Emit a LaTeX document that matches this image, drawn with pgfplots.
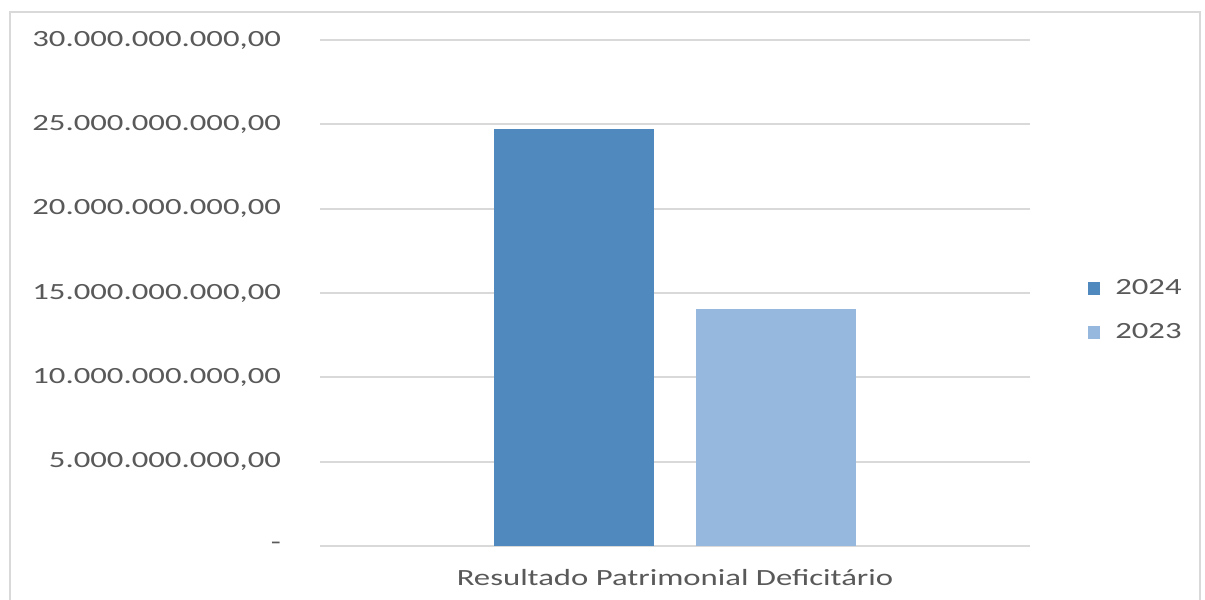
\documentclass[border=0pt]{standalone}
\usepackage{fontspec}
\setmainfont{Carlito}[FakeStretch=1.41]
\usepackage{pgfplots}
\pgfplotsset{compat=1.18}
\definecolor{bar24}{RGB}{79,137,189}
\definecolor{bar23}{RGB}{150,183,222}
\definecolor{gridgray}{RGB}{217,217,217}
\definecolor{txtgray}{RGB}{89,89,89}
\definecolor{framegray}{RGB}{217,217,217}

\begin{document}
\begin{tikzpicture}
\useasboundingbox[fill=white] (0,0) rectangle (602.5bp,300bp);
\draw[framegray, line width=1.2bp] (5bp,-3bp) rectangle (600bp,294bp);
\begin{axis}[
  at={(160bp,27bp)}, anchor=south west,
  scale only axis,
  width=355bp, height=253bp,
  ybar, bar width=80bp, ybar=21bp,
  xmin=-1, xmax=1,
  ymin=0, ymax=30000000000,
  scaled y ticks=false,
  axis x line*=bottom,
  y axis line style={draw=none},
  x axis line style={draw=gridgray, line width=1bp, -},
  ymajorgrids,
  grid style={draw=gridgray, line width=0.9bp},
  major tick length=0pt,
  xtick={0},
  xticklabels={Resultado Patrimonial Deficitário},
  ytick={0,5000000000,10000000000,15000000000,20000000000,25000000000,30000000000},
  yticklabels={-,{5.000.000.000,00},{10.000.000.000,00},{15.000.000.000,00},{20.000.000.000,00},{25.000.000.000,00},{30.000.000.000,00}},
  tick label style={font=\fontsize{11.65}{14}\selectfont, text=txtgray},
  yticklabel style={anchor=east, xshift=-16bp},
  xticklabel style={anchor=north, yshift=-8bp},
  legend style={at={(rel axis cs:1.072,0.544)}, anchor=north west, draw=none, fill=none,
    font=\fontsize{11.65}{14}\selectfont, text=txtgray, row sep=9bp,
    /tikz/every odd column/.append style={column sep=5.5bp},
    legend cell align=left},
  legend image code/.code={\fill[#1] (0bp,-3.2bp) rectangle (6.4bp,3.2bp);},
]
\addplot[fill=bar24, draw=none] coordinates {(0,24720000000)};
\addlegendentry{2024}
\addplot[fill=bar23, draw=none] coordinates {(0,14050000000)};
\addlegendentry{2023}
\end{axis}
\end{tikzpicture}
\end{document}
